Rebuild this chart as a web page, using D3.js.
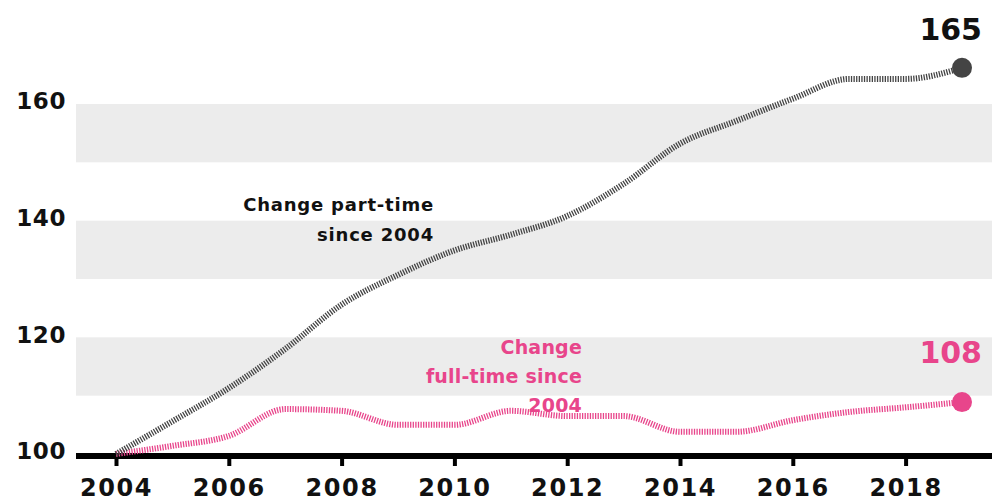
<!DOCTYPE html>
<html><head><meta charset="utf-8">
<script src="https://cdn.jsdelivr.net/npm/d3@7"></script>
<style>
body{margin:0;background:#fff;}
text{font-family:"DejaVu Sans",sans-serif;font-weight:bold;}
</style></head>
<body><svg id="c" width="994" height="501"></svg>
<script>
const years = [2004,2005,2006,2007,2008,2009,2010,2011,2012,2013,2014,2015,2016,2017,2018,2019];
const partTime = [100,105.6,111.3,118,125.6,130.7,134.9,137.6,140.8,146.3,153.2,157.1,160.9,164.3,164.3,166.2];
const fullTime = [100,101.4,103.1,107.7,107.4,105,105,107.4,106.5,106.5,103.8,103.8,105.8,107.2,108,108.9];
const yTicks = [100,120,140,160];
const xTicks = [2004,2006,2008,2010,2012,2014,2016,2018];
const bands = [[110,120],[130,140],[150,160]];
const endLabels = ["165","108"];
const partLabel = ["Change part-time","since 2004"];
const fullLabel = ["Change","full-time since","2004"];

const svg = d3.select("#c");
const x = d3.scaleLinear().domain([2004,2019]).range([116,962]);
const y = d3.scaleLinear().domain([100,160]).range([454,104]);
const left = 76, right = 992;

svg.selectAll("rect.band").data(bands).join("rect")
  .attr("x",left).attr("width",right-left)
  .attr("y",d=>y(d[1])).attr("height",d=>y(d[0])-y(d[1]))
  .attr("fill","#ececec");

// y labels
svg.selectAll("text.yl").data(yTicks).join("text")
  .attr("x",66).attr("y",d=>y(d)-3).attr("dy","0.36em")
  .attr("text-anchor","end").attr("font-size",23).attr("letter-spacing",0.6).attr("fill","#111")
  .text(d=>d);

// x axis
const xa = svg.append("g").attr("transform","translate(0,456)")
  .call(d3.axisBottom(x).tickValues(xTicks).tickFormat(d3.format("d")).tickSize(10).tickSizeOuter(0));
xa.select(".domain").remove();
xa.selectAll(".tick line").attr("stroke","#000").attr("stroke-width",4);
xa.selectAll(".tick text").attr("font-size",24).attr("fill","#111").attr("y",23)
  .attr("letter-spacing",1.6)
  .style("font-family","DejaVu Sans").style("font-weight","bold");
svg.append("line").attr("x1",left).attr("x2",right).attr("y1",456).attr("y2",456)
  .attr("stroke","#000").attr("stroke-width",6);

const line = d3.line().x((d,i)=>x(years[i])).y(d=>y(d)).curve(d3.curveMonotoneX);
svg.append("path").attr("d",line(fullTime)).attr("fill","none")
  .attr("stroke","#e8458b").attr("stroke-width",6).attr("stroke-dasharray","1.3 1.3");
svg.append("path").attr("d",line(partTime)).attr("fill","none")
  .attr("stroke","#444").attr("stroke-width",6).attr("stroke-dasharray","1.3 1.3");

svg.append("circle").attr("cx",x(2019)).attr("cy",y(partTime[15])).attr("r",10).attr("fill","#444");
svg.append("circle").attr("cx",x(2019)).attr("cy",y(fullTime[15])).attr("r",10).attr("fill","#e8458b");

svg.append("text").attr("x",982).attr("y",40).attr("text-anchor","end")
  .attr("font-size",30).attr("fill","#111").text(endLabels[0]);
svg.append("text").attr("x",982).attr("y",363).attr("text-anchor","end")
  .attr("font-size",30).attr("fill","#e8458b").text(endLabels[1]);

svg.selectAll("text.pl").data(partLabel).join("text")
  .attr("x",434).attr("y",(d,i)=>211+i*30).attr("text-anchor","end")
  .attr("font-size",18).attr("letter-spacing",0.8).attr("fill","#111").text(d=>d);
svg.selectAll("text.fl").data(fullLabel).join("text")
  .attr("x",582).attr("y",(d,i)=>354+i*29).attr("text-anchor","end")
  .attr("font-size",19).attr("letter-spacing",0.2).attr("fill","#e8458b").text(d=>d);
</script></body></html>
